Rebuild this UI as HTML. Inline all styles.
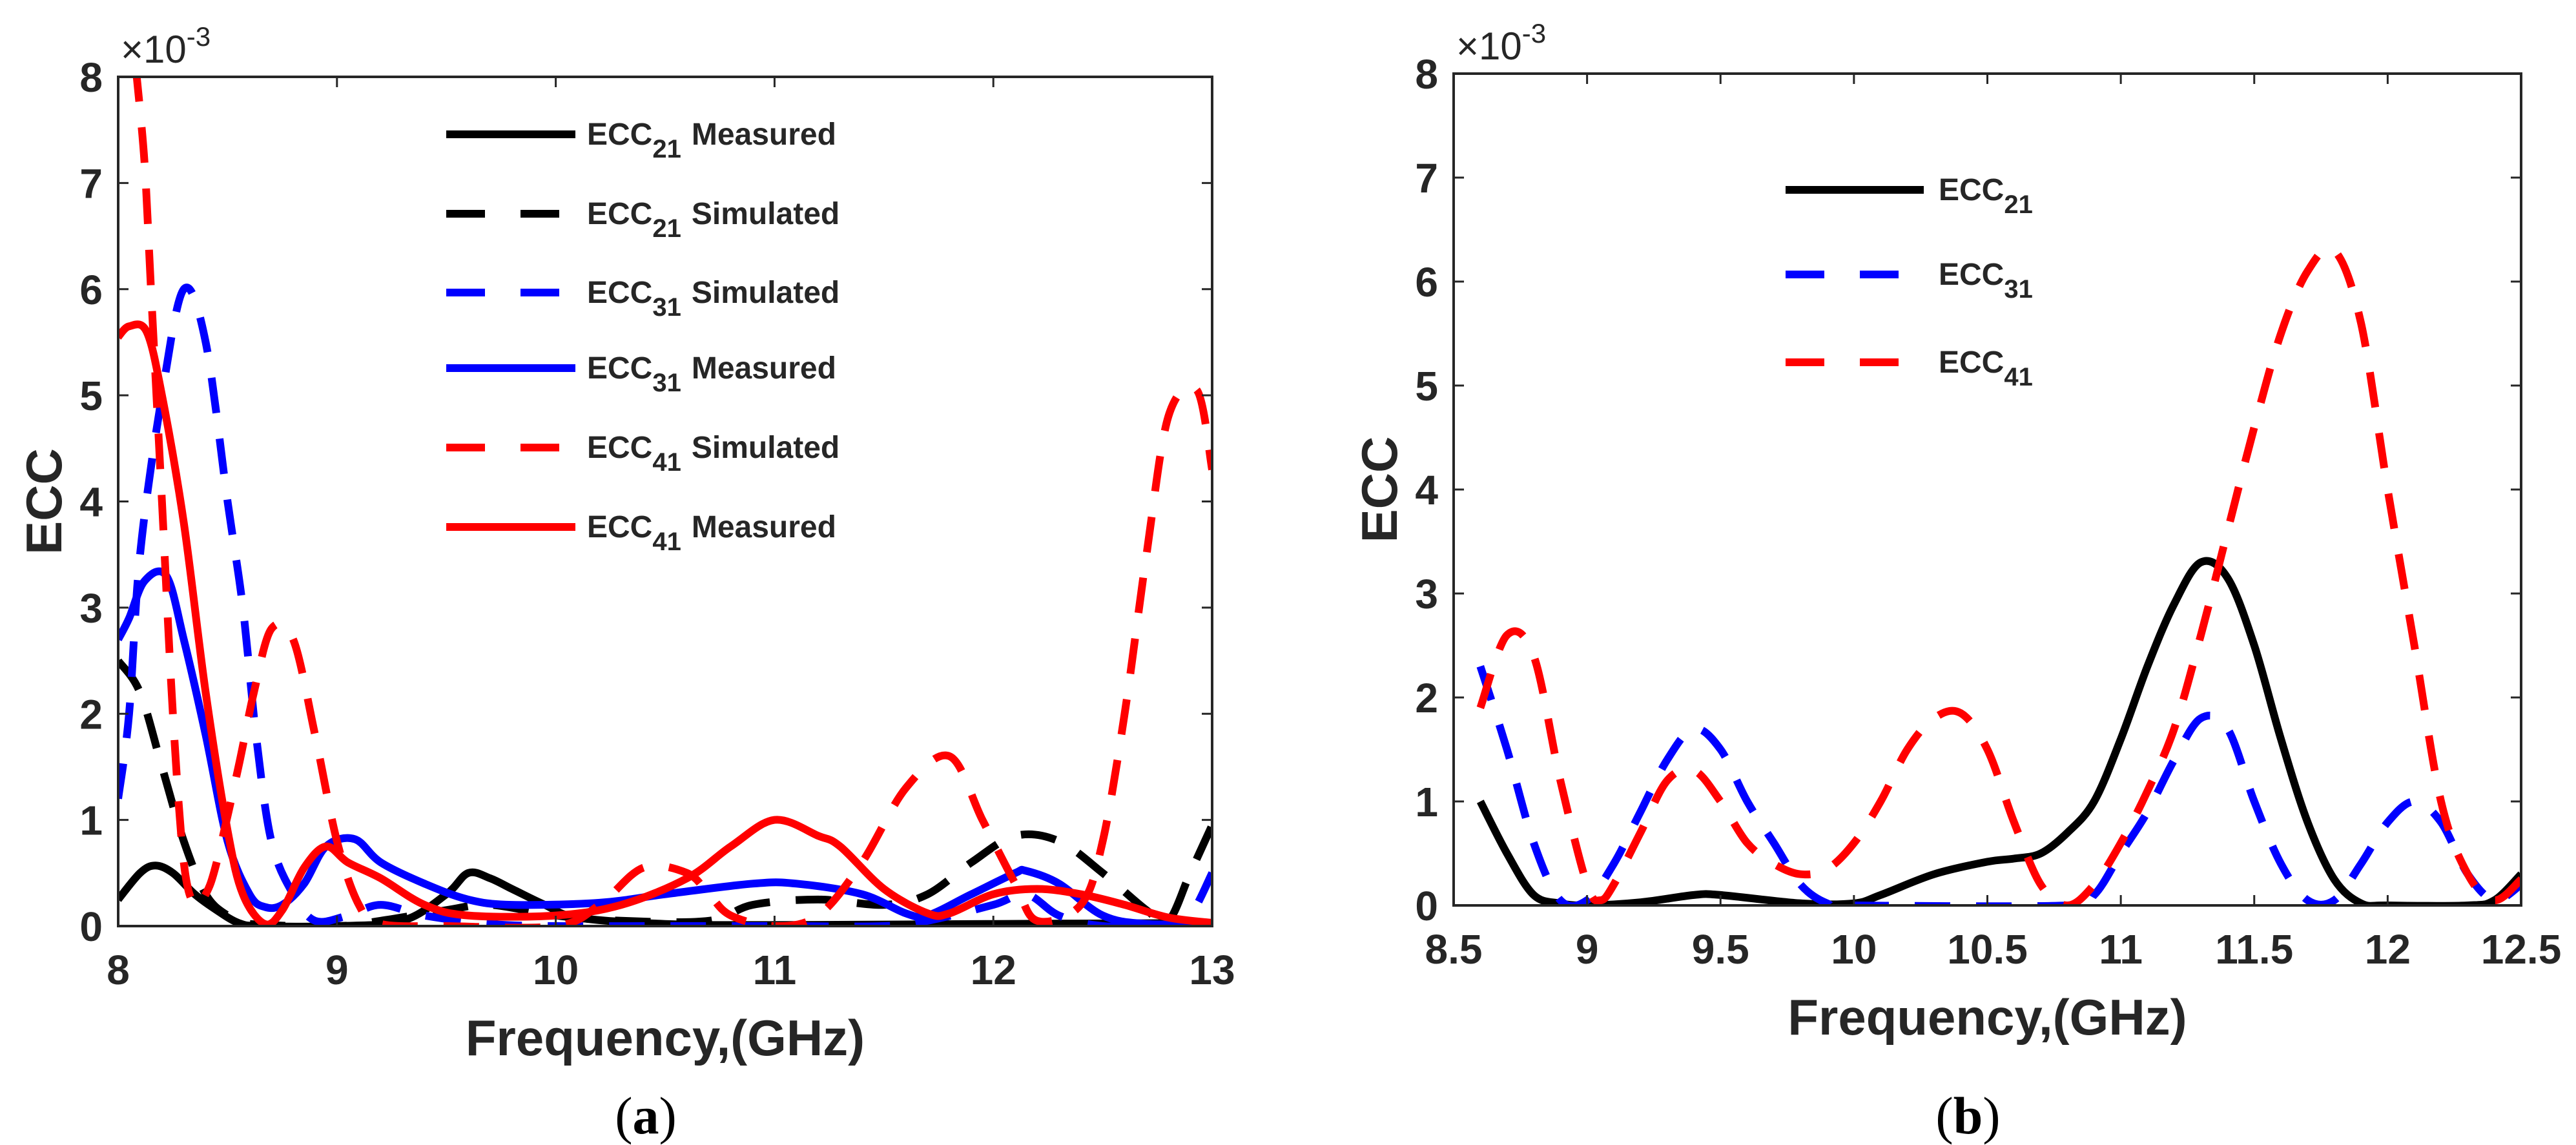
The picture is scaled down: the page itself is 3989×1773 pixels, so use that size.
<!DOCTYPE html>
<html><head><meta charset="utf-8"><style>
html,body{margin:0;padding:0;background:#fff;}
svg{display:block;font-family:"Liberation Sans",Arial,sans-serif;}
</style></head><body>
<svg id="fig" width="3989" height="1773" viewBox="0 0 3989 1773" xmlns="http://www.w3.org/2000/svg">
<defs>
<clipPath id="clipA"><rect x="183" y="119" width="1694" height="1315"/></clipPath>
<clipPath id="clipB"><rect x="2251" y="114" width="1653" height="1288"/></clipPath>
</defs>
</svg>
<script>
// ---------- Panel (a) data ----------
const a_xTicks = [8, 9, 10, 11, 12, 13];
const a_yTicks = [0, 1, 2, 3, 4, 5, 6, 7, 8];
const a_ecc21m_x = [8, 8.1, 8.17, 8.25, 8.35, 8.45, 8.55, 8.65, 9.0, 9.3, 9.5, 9.6, 9.7, 9.8, 9.95, 10.1, 10.5, 11, 12, 13];
const a_ecc21m_y = [0.25, 0.5, 0.57, 0.5, 0.3, 0.15, 0.03, 0, 0, 0.05, 0.3, 0.5, 0.45, 0.35, 0.2, 0.08, 0.02, 0.01, 0.02, 0.03];
const a_ecc21s_x = [8, 8.1, 8.2, 8.3, 8.4, 8.5, 8.6, 9.0, 9.2, 9.5, 9.7, 10, 10.3, 10.7, 10.9, 11.2, 11.5, 11.7, 11.9, 12.1, 12.3, 12.5, 12.7, 12.8, 12.9, 13];
const a_ecc21s_y = [2.5, 2.2, 1.5, 0.8, 0.3, 0.1, 0.02, 0, 0.05, 0.15, 0.2, 0.1, 0.05, 0.05, 0.2, 0.25, 0.2, 0.3, 0.6, 0.85, 0.8, 0.5, 0.15, 0.05, 0.5, 0.95];
const a_ecc31s_x = [8, 8.05, 8.1, 8.2, 8.3, 8.4, 8.5, 8.57, 8.63, 8.7, 8.8, 8.9, 9.05, 9.2, 9.4, 9.7, 10, 10.5, 11, 11.5, 11.7, 12, 12.15, 12.3, 12.5, 12.8, 12.9, 13];
const a_ecc31s_y = [1.2, 2.0, 3.5, 5.0, 6.0, 5.5, 4.0, 3.0, 1.8, 0.8, 0.3, 0.05, 0.1, 0.2, 0.1, 0.02, 0, 0, 0, 0, 0.05, 0.2, 0.3, 0.1, 0, 0, 0.1, 0.5];
const a_ecc31m_x = [8, 8.05, 8.12, 8.22, 8.3, 8.4, 8.5, 8.6, 8.67, 8.75, 8.85, 8.95, 9.08, 9.2, 9.4, 9.6, 9.8, 10.2, 10.5, 10.9, 11.1, 11.4, 11.6, 11.7, 11.9, 12.1, 12.15, 12.3, 12.5, 12.7, 13];
const a_ecc31m_y = [2.7, 2.9, 3.25, 3.3, 2.7, 1.8, 0.8, 0.3, 0.18, 0.2, 0.4, 0.75, 0.82, 0.6, 0.4, 0.25, 0.2, 0.22, 0.3, 0.4, 0.4, 0.3, 0.12, 0.1, 0.3, 0.5, 0.52, 0.4, 0.1, 0.02, 0.02];
const a_ecc41s_x = [8.08, 8.12, 8.15, 8.2, 8.25, 8.3, 8.35, 8.4, 8.45, 8.55, 8.62, 8.7, 8.8, 8.9, 9.0, 9.1, 9.2, 9.5, 10, 10.2, 10.4, 10.6, 10.7, 10.8, 11, 11.2, 11.4, 11.6, 11.8, 11.95, 12.1, 12.2, 12.4, 12.5, 12.6, 12.7, 12.8, 12.93, 13];
const a_ecc41s_y = [8.1, 7.2, 6, 4.0, 2.0, 0.6, 0.2, 0.3, 0.6, 1.5, 2.2, 2.8, 2.7, 1.8, 0.8, 0.2, 0.02, 0, 0, 0.2, 0.55, 0.5, 0.3, 0.1, 0, 0.1, 0.6, 1.3, 1.6, 1.0, 0.4, 0.05, 0.2, 0.8, 2.0, 3.5, 4.8, 5.05, 4.3];
const a_ecc41m_x = [8, 8.05, 8.13, 8.2, 8.3, 8.4, 8.5, 8.57, 8.67, 8.75, 8.85, 8.95, 9.05, 9.2, 9.4, 9.6, 10, 10.3, 10.6, 10.8, 11, 11.2, 11.3, 11.5, 11.7, 11.8, 12, 12.2, 12.4, 12.6, 12.8, 13];
const a_ecc41m_y = [5.55, 5.65, 5.6, 5.0, 3.8, 2.2, 0.9, 0.3, 0.02, 0.15, 0.55, 0.75, 0.6, 0.45, 0.2, 0.1, 0.1, 0.2, 0.45, 0.75, 1.0, 0.85, 0.75, 0.35, 0.12, 0.12, 0.3, 0.35, 0.3, 0.2, 0.08, 0.03];
// ---------- Panel (b) data ----------
const b_xTicks = [8.5, 9, 9.5, 10, 10.5, 11, 11.5, 12, 12.5];
const b_yTicks = [0, 1, 2, 3, 4, 5, 6, 7, 8];
const b_ecc21_x = [8.6, 8.7, 8.8, 8.9, 9, 9.2, 9.4, 9.5, 9.8, 10, 10.1, 10.3, 10.5, 10.6, 10.7, 10.8, 10.9, 11, 11.1, 11.2, 11.3, 11.4, 11.5, 11.6, 11.7, 11.8, 11.9, 12, 12.3, 12.4, 12.5];
const b_ecc21_y = [1.0, 0.5, 0.1, 0.02, 0, 0.03, 0.1, 0.1, 0.02, 0.02, 0.1, 0.3, 0.42, 0.45, 0.5, 0.7, 1.0, 1.6, 2.3, 2.9, 3.3, 3.15, 2.5, 1.6, 0.8, 0.25, 0.02, 0, 0, 0.05, 0.3];
const b_ecc31_x = [8.6, 8.7, 8.8, 8.9, 9.0, 9.1, 9.2, 9.3, 9.4, 9.5, 9.6, 9.7, 9.8, 9.9, 10, 10.8, 10.9, 11.0, 11.1, 11.2, 11.3, 11.4, 11.5, 11.6, 11.7, 11.8, 11.9, 12.0, 12.1, 12.2, 12.3, 12.4, 12.5];
const b_ecc31_y = [2.3, 1.5, 0.6, 0.05, 0.05, 0.4, 0.9, 1.4, 1.7, 1.5, 1.0, 0.6, 0.2, 0.02, 0, 0, 0.1, 0.5, 0.9, 1.4, 1.8, 1.7, 1.0, 0.4, 0.05, 0.05, 0.4, 0.8, 1.0, 0.8, 0.3, 0.05, 0.2];
const b_ecc41_x = [8.6, 8.7, 8.8, 8.9, 9.0, 9.05, 9.1, 9.2, 9.3, 9.4, 9.5, 9.6, 9.7, 9.8, 9.9, 10, 10.1, 10.2, 10.3, 10.4, 10.5, 10.6, 10.7, 10.8, 10.9, 11, 11.1, 11.2, 11.3, 11.4, 11.5, 11.6, 11.7, 11.8, 11.9, 12, 12.1, 12.2, 12.3, 12.4, 12.5];
const b_ecc41_y = [1.9, 2.6, 2.4, 1.2, 0.2, 0.05, 0.2, 0.7, 1.2, 1.3, 1.0, 0.6, 0.4, 0.3, 0.35, 0.6, 1.0, 1.5, 1.8, 1.85, 1.5, 0.8, 0.2, 0.0, 0.2, 0.6, 1.1, 1.7, 2.6, 3.6, 4.6, 5.5, 6.1, 6.3, 5.6, 4.0, 2.5, 1.0, 0.3, 0.05, 0.25];

const NS = "http://www.w3.org/2000/svg";
const svg = document.getElementById('fig');
function mk(tag, attrs, parent, text) {
  const e = document.createElementNS(NS, tag);
  for (const k in attrs) e.setAttribute(k, attrs[k]);
  if (text !== undefined) e.textContent = text;
  (parent || svg).appendChild(e);
  return e;
}
function smoothPath(pts) {
  let d = 'M' + pts[0][0].toFixed(1) + ',' + pts[0][1].toFixed(1);
  for (let i = 0; i < pts.length - 1; i++) {
    const p0 = pts[i - 1] || pts[i], p1 = pts[i], p2 = pts[i + 1], p3 = pts[i + 2] || pts[i + 1];
    const c1 = [p1[0] + (p2[0] - p0[0]) / 6, p1[1] + (p2[1] - p0[1]) / 6];
    const c2 = [p2[0] - (p3[0] - p1[0]) / 6, p2[1] - (p3[1] - p1[1]) / 6];
    d += 'C' + c1[0].toFixed(1) + ',' + c1[1].toFixed(1) + ' ' + c2[0].toFixed(1) + ',' + c2[1].toFixed(1) + ' ' + p2[0].toFixed(1) + ',' + p2[1].toFixed(1);
  }
  return d;
}

function panel(cfg) {
  const g = mk('g', {});
  
  
  const X = v => cfg.x0 + (v - cfg.xmin) / (cfg.xmax - cfg.xmin) * (cfg.x1 - cfg.x0);
  const Y = v => cfg.y1 - v / 8 * (cfg.y1 - cfg.y0);
  // series
  const sg = mk('g', { 'clip-path': 'url(#' + cfg.clip + ')' }, g);
  cfg.series.forEach(s => {
    const pts = s.x.map((xv, i) => [X(xv), Y(s.y[i])]);
    const p = mk('path', { d: smoothPath(pts), fill: 'none', stroke: s.color, 'stroke-width': 12, 'stroke-linejoin': 'round' }, sg);
    if (s.dash) p.setAttribute('stroke-dasharray', '55,40');
    
    
  });
  // axes box
  const box = mk('rect', { x: cfg.x0, y: cfg.y0, width: cfg.x1 - cfg.x0, height: cfg.y1 - cfg.y0, fill: 'none', stroke: '#262626', 'stroke-width': 4 }, g);
  
  
  // ticks
  cfg.xTicks.forEach(t => {
    const x = X(t);
    mk('line', { x1: x, x2: x, y1: cfg.y1, y2: cfg.y1 - 16, stroke: '#262626', 'stroke-width': 3 }, g);
    mk('line', { x1: x, x2: x, y1: cfg.y0, y2: cfg.y0 + 16, stroke: '#262626', 'stroke-width': 3 }, g);
    const tl = mk('text', { x: x, y: cfg.y1 + 90, 'text-anchor': 'middle', 'font-size': 64, 'font-weight': 'bold', fill: '#262626' }, g, String(t));
    
    
  });
  cfg.yTicks.forEach(t => {
    const y = Y(t);
    mk('line', { x1: cfg.x0, x2: cfg.x0 + 16, y1: y, y2: y, stroke: '#262626', 'stroke-width': 3 }, g);
    mk('line', { x1: cfg.x1, x2: cfg.x1 - 16, y1: y, y2: y, stroke: '#262626', 'stroke-width': 3 }, g);
    const tl = mk('text', { x: cfg.x0 - 24, y: y + 23, 'text-anchor': 'end', 'font-size': 64, 'font-weight': 'bold', fill: '#262626' }, g, String(t));
    
    
  });
  // exponent
  const ex = mk('text', { x: cfg.x0 + 4, y: cfg.y0 - 22, 'font-size': 60, fill: '#262626' }, g);
  
  
  mk('tspan', {}, ex, '\u00d710');
  mk('tspan', { dy: -26, 'font-size': 42 }, ex, '-3');
  // axis titles
  const xt = mk('text', { x: (cfg.x0 + cfg.x1) / 2, y: cfg.y1 + 200, 'text-anchor': 'middle', 'font-size': 78, 'font-weight': 'bold', fill: '#262626' }, g, 'Frequency,(GHz)');
  
  
  const yt = mk('text', { x: 0, y: 0, transform: 'translate(' + (cfg.x0 - 88) + ',' + ((cfg.y0 + cfg.y1) / 2) + ') rotate(-90)', 'text-anchor': 'middle', 'font-size': 78, 'font-weight': 'bold', fill: '#262626' }, g, 'ECC');
  
  
  // legend
  const lg = mk('g', {}, g);
  
  
  cfg.legend.forEach((L, i) => {
    const y = cfg.legY[i];
    const e = mk('g', {}, lg);
    
    
    const ln = mk('line', { x1: cfg.legX0, x2: cfg.legX1, y1: y, y2: y, stroke: L.color, 'stroke-width': 12 }, e);
    if (L.dash) ln.setAttribute('stroke-dasharray', '60,55');
    const t = mk('text', { x: cfg.legTX, y: y + 16, 'font-size': 48, 'font-weight': 'bold', fill: '#262626' }, e);
    mk('tspan', {}, t, 'ECC');
    mk('tspan', { dy: 20, 'font-size': 40 }, t, L.sub);
    if (L.label) mk('tspan', { dy: -20, dx: 16 }, t, L.label);
  });
  // panel letter
  const pl = mk('text', { x: (cfg.x0 + cfg.x1) / 2 - 30, y: 1755, 'text-anchor': 'middle', 'font-size': 82, 'font-family': '"Liberation Serif", serif', fill: '#000' }, g);
  
  
  mk('tspan', {}, pl, '(');
  mk('tspan', { 'font-weight': 'bold' }, pl, cfg.letter);
  mk('tspan', {}, pl, ')');
}

panel({
  name: 'panel-a', clip: 'clipA', letter: 'a',
  x0: 183, x1: 1877, y0: 119, y1: 1434, xmin: 8, xmax: 13,
  xTicks: a_xTicks, yTicks: a_yTicks,
  series: [
    { id: 'ecc21-measured', x: a_ecc21m_x, y: a_ecc21m_y, color: '#000', dash: false },
    { id: 'ecc21-simulated', x: a_ecc21s_x, y: a_ecc21s_y, color: '#000', dash: true },
    { id: 'ecc31-simulated', x: a_ecc31s_x, y: a_ecc31s_y, color: '#0000ff', dash: true },
    { id: 'ecc31-measured', x: a_ecc31m_x, y: a_ecc31m_y, color: '#0000ff', dash: false },
    { id: 'ecc41-simulated', x: a_ecc41s_x, y: a_ecc41s_y, color: '#ff0000', dash: true },
    { id: 'ecc41-measured', x: a_ecc41m_x, y: a_ecc41m_y, color: '#ff0000', dash: false }
  ],
  legend: [
    { sub: '21', label: 'Measured', color: '#000', dash: false },
    { sub: '21', label: 'Simulated', color: '#000', dash: true },
    { sub: '31', label: 'Simulated', color: '#0000ff', dash: true },
    { sub: '31', label: 'Measured', color: '#0000ff', dash: false },
    { sub: '41', label: 'Simulated', color: '#ff0000', dash: true },
    { sub: '41', label: 'Measured', color: '#ff0000', dash: false }
  ],
  legY: [208, 331, 453, 570, 693, 816], legX0: 691, legX1: 891, legTX: 909
});
panel({
  name: 'panel-b', clip: 'clipB', letter: 'b',
  x0: 2251, x1: 3904, y0: 114, y1: 1402, xmin: 8.5, xmax: 12.5,
  xTicks: b_xTicks, yTicks: b_yTicks,
  series: [
    { id: 'ecc21', x: b_ecc21_x, y: b_ecc21_y, color: '#000', dash: false },
    { id: 'ecc31', x: b_ecc31_x, y: b_ecc31_y, color: '#0000ff', dash: true },
    { id: 'ecc41', x: b_ecc41_x, y: b_ecc41_y, color: '#ff0000', dash: true }
  ],
  legend: [
    { sub: '21', label: '', color: '#000', dash: false },
    { sub: '31', label: '', color: '#0000ff', dash: true },
    { sub: '41', label: '', color: '#ff0000', dash: true }
  ],
  legY: [294, 425, 561], legX0: 2765, legX1: 2979, legTX: 3002
});
</script>
</body></html>
